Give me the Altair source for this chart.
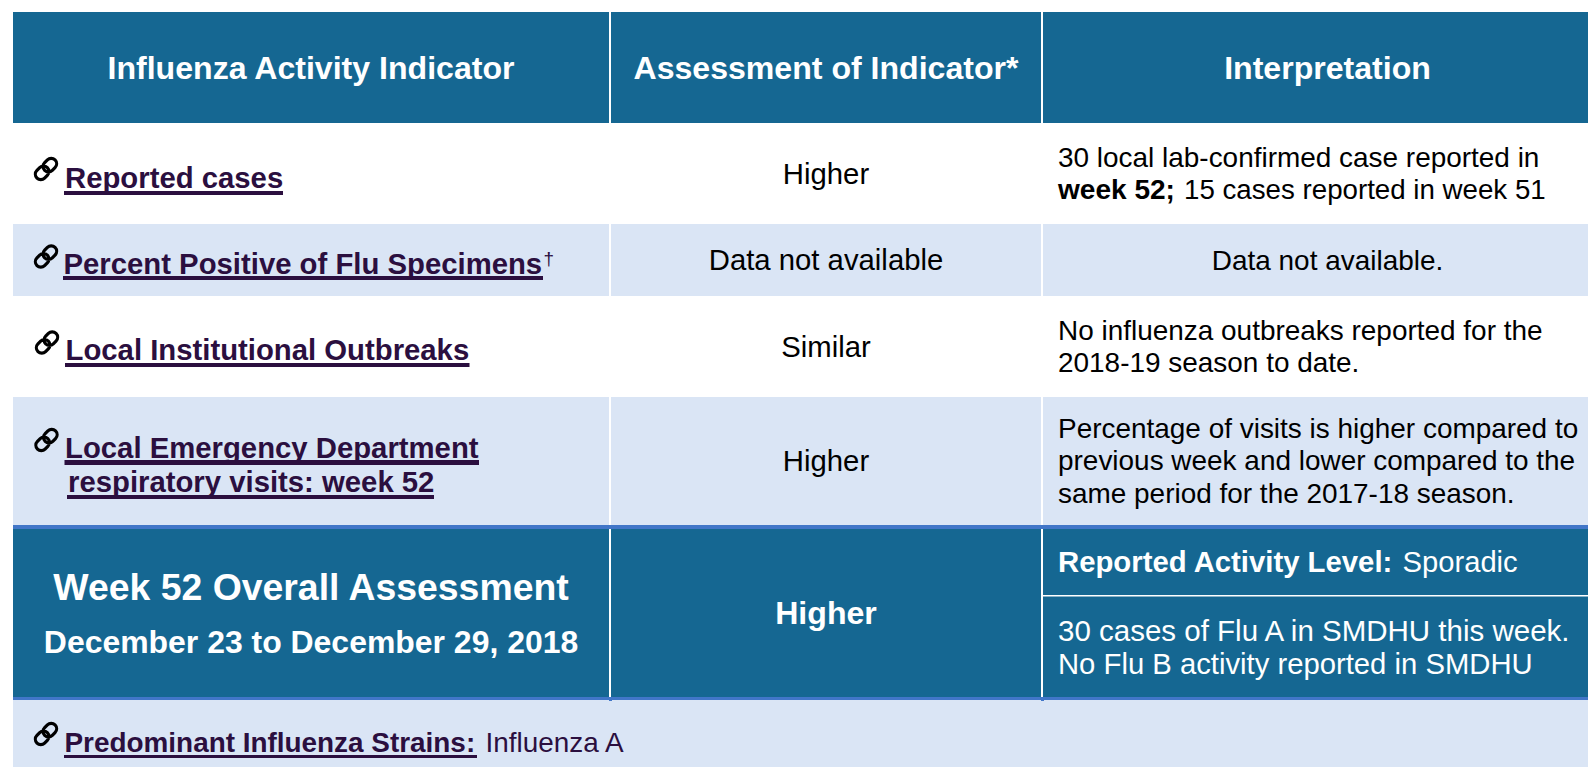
import altair as alt
import pandas as pd

DARK = "#156792"
LIGHT = "#DAE5F5"
WHITE = "#FFFFFF"
LINE = "#4176C8"
PURPLE = "#2B0F3F"
BLACK = "#000000"

# ---- table content ----
headers = ["Influenza Activity Indicator", "Assessment of Indicator*", "Interpretation"]
indicators = ["Reported cases", "Percent Positive of Flu Specimens", "Local Institutional Outbreaks",
              "Local Emergency Department", "respiratory visits: week 52"]
dagger = "†"
assessments = ["Higher", "Data not available", "Similar", "Higher"]
interp_r1 = ["30 local lab-confirmed case reported in", "15 cases reported in week 51"]
interp_r1_bold = "week 52;"
interp_r2 = "Data not available."
interp_r3 = ["No influenza outbreaks reported for the", "2018-19 season to date."]
interp_r4 = ["Percentage of visits is higher compared to", "previous week and lower compared to the",
             "same period for the 2017-18 season."]
overall_title = "Week 52 Overall Assessment"
overall_dates = "December 23 to December 29, 2018"
overall_value = "Higher"
activity_label = "Reported Activity Level:"
activity_value = "Sporadic"
overall_notes = ["30 cases of Flu A in SMDHU this week.", "No Flu B activity reported in SMDHU"]
strain_label = "Predominant Influenza Strains:"
strain_value = "Influenza A"

# ---- layout, in table units ----
X0, C1, C2, C3, XMAX = 13, 609, 611, 1041, 1588
C4 = 1043
YMAX = 767
row_edges = [12, 123, 224, 296, 397, 525]

cells = []
row_fill = [DARK, WHITE, LIGHT, WHITE, LIGHT]
for i, f in enumerate(row_fill):
    cells.append(dict(x=X0, x2=XMAX, y=row_edges[i], y2=row_edges[i + 1], c=f))
cells.append(dict(x=X0, x2=XMAX, y=525, y2=529, c=LINE))
cells.append(dict(x=X0, x2=XMAX, y=529, y2=697, c=DARK))
cells.append(dict(x=X0, x2=XMAX, y=697, y2=700, c=LINE))
cells.append(dict(x=X0, x2=XMAX, y=700, y2=YMAX, c=LIGHT))
# column separators
for a, b in [(12, 525), (529, 697)]:
    cells.append(dict(x=C1, x2=C2, y=a, y2=b, c=WHITE))
    cells.append(dict(x=C3, x2=C4, y=a, y2=b, c=WHITE))
cells.append(dict(x=C4, x2=XMAX, y=595, y2=596.4, c=WHITE))
cells.append(dict(x=C1, x2=C2 + 1, y=700, y2=701, c=LINE))
cells.append(dict(x=C3, x2=C4 + 1, y=700, y2=701, c=LINE))
# underlines of the linked labels
for x, x2, y, y2 in [(64, 283, 191, 195), (63, 543, 276, 280), (65, 469.5, 363, 367),
                     (64.5, 479, 460, 465), (67, 434, 495, 499), (64, 477, 755, 758)]:
    cells.append(dict(x=x, x2=x2, y=y, y2=y2, c=PURPLE))

sx = alt.Scale(domain=[8, XMAX], nice=False, zero=False)
sy = alt.Scale(domain=[YMAX, 8], nice=False, zero=False)

rects = alt.Chart(pd.DataFrame(cells)).mark_rect(strokeWidth=0).encode(
    x=alt.X("x:Q", scale=sx, axis=None),
    x2="x2:Q",
    y=alt.Y("y:Q", scale=sy, axis=None),
    y2="y2:Q",
    color=alt.Color("c:N", scale=None),
)

H = 32.1
B = 29.3
R = 29.3
C = 28.05
bold_left = [
    (indicators[0], 65, 187.5, B, PURPLE),
    (indicators[1], 63.5, 274, B, PURPLE),
    (indicators[2], 65.5, 360, B, PURPLE),
    (indicators[3], 65, 457.7, B, PURPLE),
    (indicators[4], 68, 491.7, B, PURPLE),
    (strain_label, 64.5, 752, 27.9, PURPLE),
    (interp_r1_bold, 1058, 198.7, C, BLACK),
    (activity_label, 1058, 571.7, 29.3, WHITE),
]
bold_center = [
    (headers[0], 311, 78.8, H, WHITE),
    (headers[1], 826, 78.8, H, WHITE),
    (headers[2], 1327.5, 78.8, H, WHITE),
    (overall_title, 311, 600, 37.4, WHITE),
    (overall_dates, 311, 653, 31.95, WHITE),
    (overall_value, 826, 624, H, WHITE),
]
reg_left = [
    (interp_r1[0], 1058, 166.7, 27.95, BLACK),
    (interp_r1[1], 1184, 198.7, 27.7, BLACK),
    (interp_r3[0], 1058, 339.7, 27.95, BLACK),
    (interp_r3[1], 1058, 371.7, 27.95, BLACK),
    (interp_r4[0], 1058, 437.7, 27.95, BLACK),
    (interp_r4[1], 1058, 470, 27.95, BLACK),
    (interp_r4[2], 1058, 502.7, 27.95, BLACK),
    (activity_value, 1402.5, 571.7, 29.2, WHITE),
    (overall_notes[0], 1058, 640.7, 29.5, WHITE),
    (overall_notes[1], 1058, 674, 29.25, WHITE),
    (strain_value, 485.5, 752, 27.9, PURPLE),
    (dagger, 543.5, 265, 19, PURPLE),
]
reg_center = [
    (assessments[0], 826, 184, R, BLACK),
    (assessments[1], 826, 270, R, BLACK),
    (assessments[2], 826, 357, R, BLACK),
    (assessments[3], 826, 471, R, BLACK),
    (interp_r2, 1327.5, 270.3, 27.95, BLACK),
]


def text_layer(rows, weight, align):
    df = pd.DataFrame(rows, columns=["t", "x", "y", "s", "c"])
    return alt.Chart(df).mark_text(
        font="Liberation Sans", fontWeight=weight, align=align, baseline="alphabetic"
    ).encode(
        x=alt.X("x:Q", scale=sx, axis=None),
        y=alt.Y("y:Q", scale=sy, axis=None),
        text="t:N",
        size=alt.Size("s:Q", scale=None),
        color=alt.Color("c:N", scale=None),
    )


LINK_PATH = (
    "M -.103 -.491 L .109 -.703 A .42 .42 0 0 1 .703 -.109 L .491 .103 A .42 .42 0 0 1 -.103 -.491 Z "
    "M -.703 .109 L -.491 -.103 A .42 .42 0 0 1 .103 .491 L -.109 .703 A .42 .42 0 0 1 -.703 .109 Z"
)
icon_x = [46, 46, 47, 46.5, 46]
icon_y = [169, 256.5, 342.5, 440, 734]
icons = alt.Chart(pd.DataFrame({"x": icon_x, "y": icon_y})).mark_point(
    shape=LINK_PATH, size=660, filled=False, stroke=BLACK, strokeWidth=3.2, opacity=1
).encode(
    x=alt.X("x:Q", scale=sx, axis=None),
    y=alt.Y("y:Q", scale=sy, axis=None),
)

chart = alt.layer(
    rects,
    icons,
    text_layer(bold_left, "bold", "left"),
    text_layer(bold_center, "bold", "center"),
    text_layer(reg_left, "normal", "left"),
    text_layer(reg_center, "normal", "center"),
).properties(
    width=XMAX - 8, height=YMAX - 8, padding=0, autosize=alt.AutoSizeParams(type="none"), background="white"
).configure_view(stroke=None)

chart.save("out.html", embed_options={"renderer": "svg", "actions": False})
